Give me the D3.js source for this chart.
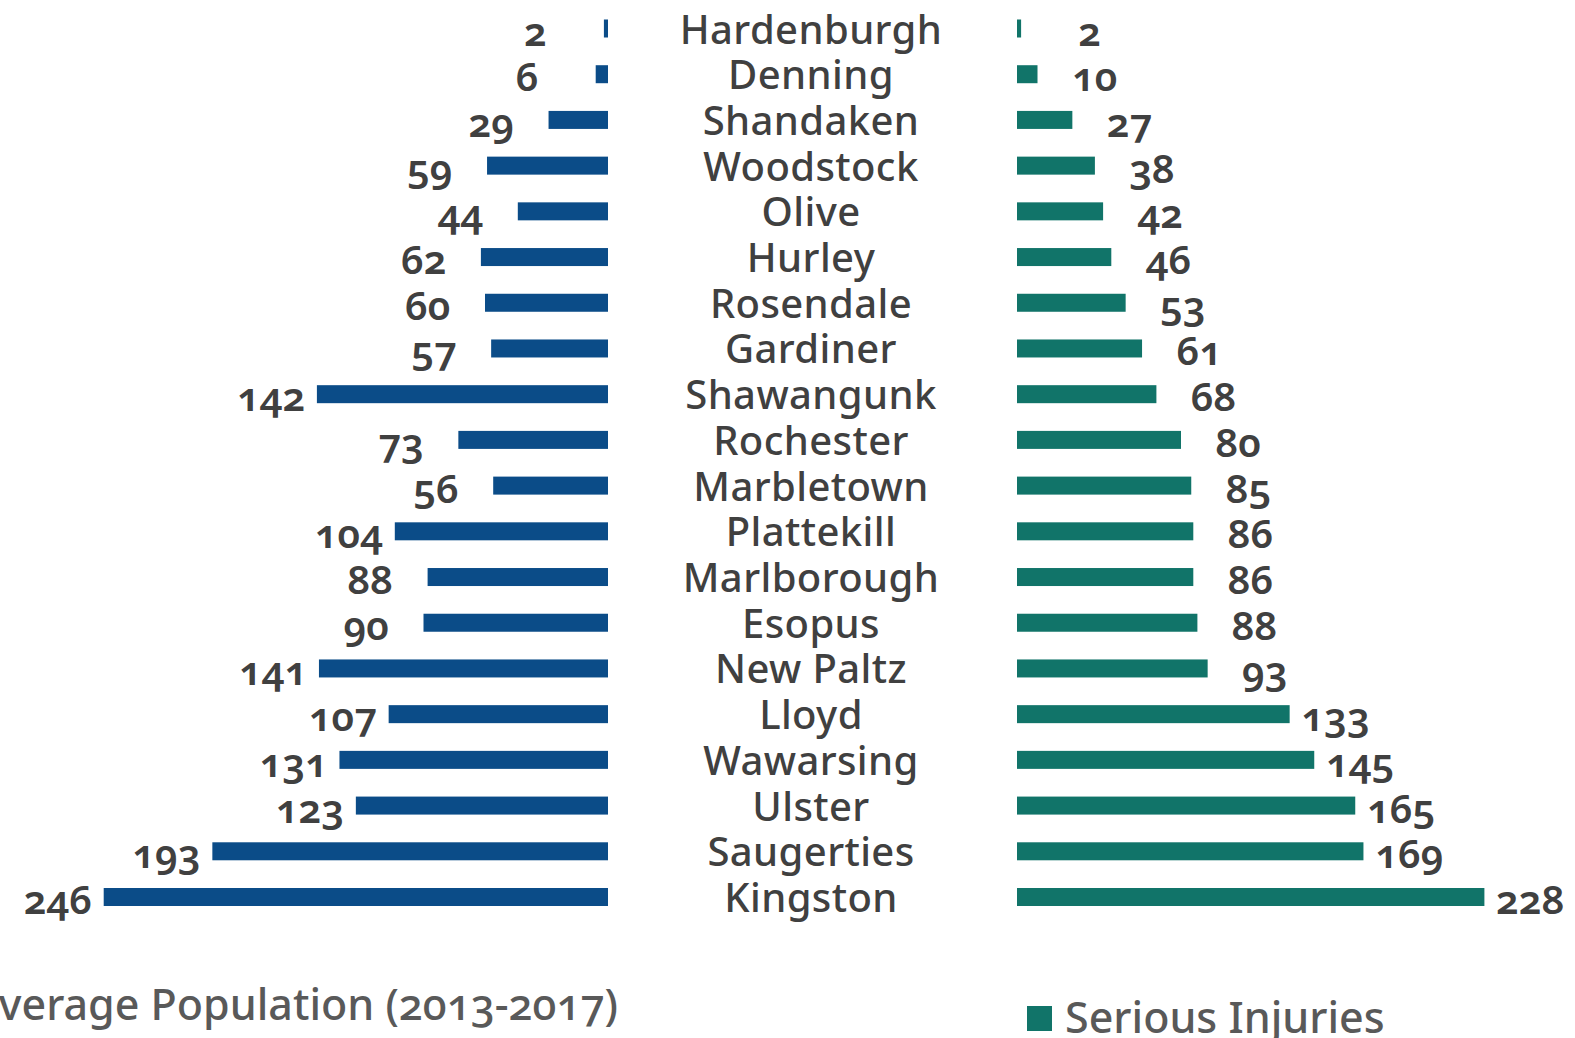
<!DOCTYPE html>
<html>
<head>
<meta charset="utf-8">
<script src="https://cdn.jsdelivr.net/npm/d3@7"></script>
<style>
  body { margin: 0; background: #fff; overflow: hidden; }
  svg text { font-family: "Noto Sans", "Open Sans", sans-serif; font-feature-settings: "onum" 1; }
</style>
</head>
<body>
<div id="chart"></div>
<script>
const towns = ["Hardenburgh", "Denning", "Shandaken", "Woodstock", "Olive", "Hurley", "Rosendale",
  "Gardiner", "Shawangunk", "Rochester", "Marbletown", "Plattekill", "Marlborough", "Esopus",
  "New Paltz", "Lloyd", "Wawarsing", "Ulster", "Saugerties", "Kingston"];
const population = [2, 6, 29, 59, 44, 62, 60, 57, 142, 73, 56, 104, 88, 90, 141, 107, 131, 123, 193, 246];
const injuries = [2, 10, 27, 38, 42, 46, 53, 61, 68, 80, 85, 86, 86, 88, 93, 133, 145, 165, 169, 228];
const legendLabels = ["Average Population (2013-2017)", "Serious Injuries"];

const width = 1575, height = 1038;
const leftBase = 608, rightBase = 1017, centerX = 811;
const barH = 18;
const blue = "#0b4c88", teal = "#117469", textCol = "#404040", legendCol = "#595959";

const svg = d3.select("#chart")
  .append("svg")
  .attr("width", width)
  .attr("height", height);

const y = d3.scalePoint()
  .domain(towns)
  .range([28.5, 897]);

const x = d3.scaleLinear()
  .domain([0, 250])
  .range([0, 512.5]);

const rows = towns.map((t, i) => ({ town: t, pop: population[i], inj: injuries[i] }));

// left bars (population)
svg.selectAll(".bar-left")
  .data(rows)
  .enter()
  .append("rect")
  .attr("class", "bar-left")
  .attr("x", d => leftBase - x(d.pop))
  .attr("y", d => y(d.town) - barH / 2)
  .attr("width", d => x(d.pop))
  .attr("height", barH)
  .attr("fill", blue);

// right bars (serious injuries)
svg.selectAll(".bar-right")
  .data(rows)
  .enter()
  .append("rect")
  .attr("class", "bar-right")
  .attr("x", rightBase)
  .attr("y", d => y(d.town) - barH / 2)
  .attr("width", d => x(d.inj))
  .attr("height", barH)
  .attr("fill", teal);

// town names
svg.selectAll(".town")
  .data(rows)
  .enter()
  .append("text")
  .attr("class", "town")
  .attr("x", centerX)
  .attr("y", d => y(d.town) + 15)
  .attr("text-anchor", "middle")
  .attr("font-size", 40)
  .attr("font-weight", 500)
  .attr("letter-spacing", 0.4)
  .attr("fill", textCol)
  .text(d => d.town);

// value labels
svg.selectAll(".lab-left")
  .data(rows)
  .enter()
  .append("text")
  .attr("class", "lab-left")
  .attr("x", d => leftBase - x(d.pop) - 80)
  .attr("y", d => y(d.town) + 17)
  .attr("font-size", 40)
  .attr("font-weight", 600)
  .attr("fill", textCol)
  .text(d => d.pop);

svg.selectAll(".lab-right")
  .data(rows)
  .enter()
  .append("text")
  .attr("class", "lab-right")
  .attr("x", d => rightBase + x(d.inj) + 80)
  .attr("y", d => y(d.town) + 17)
  .attr("text-anchor", "end")
  .attr("font-size", 40)
  .attr("font-weight", 600)
  .attr("fill", textCol)
  .text(d => d.inj);

// legend
const leg1 = svg.append("g");
const t1 = leg1.append("text")
  .attr("x", 618)
  .attr("y", 1020)
  .attr("text-anchor", "end")
  .attr("font-size", 43)
  .attr("font-weight", 500)
  .attr("fill", legendCol)
  .text(legendLabels[0]);
const w1 = t1.node().getComputedTextLength();
leg1.append("rect")
  .attr("x", 618 - w1 - 40)
  .attr("y", 994)
  .attr("width", 25)
  .attr("height", 25)
  .attr("fill", blue);

const leg2 = svg.append("g");
leg2.append("rect")
  .attr("x", 1027)
  .attr("y", 1006)
  .attr("width", 25)
  .attr("height", 25)
  .attr("fill", teal);
leg2.append("text")
  .attr("x", 1065)
  .attr("y", 1033)
  .attr("font-size", 43)
  .attr("font-weight", 500)
  .attr("fill", legendCol)
  .text(legendLabels[1]);
</script>
</body>
</html>
